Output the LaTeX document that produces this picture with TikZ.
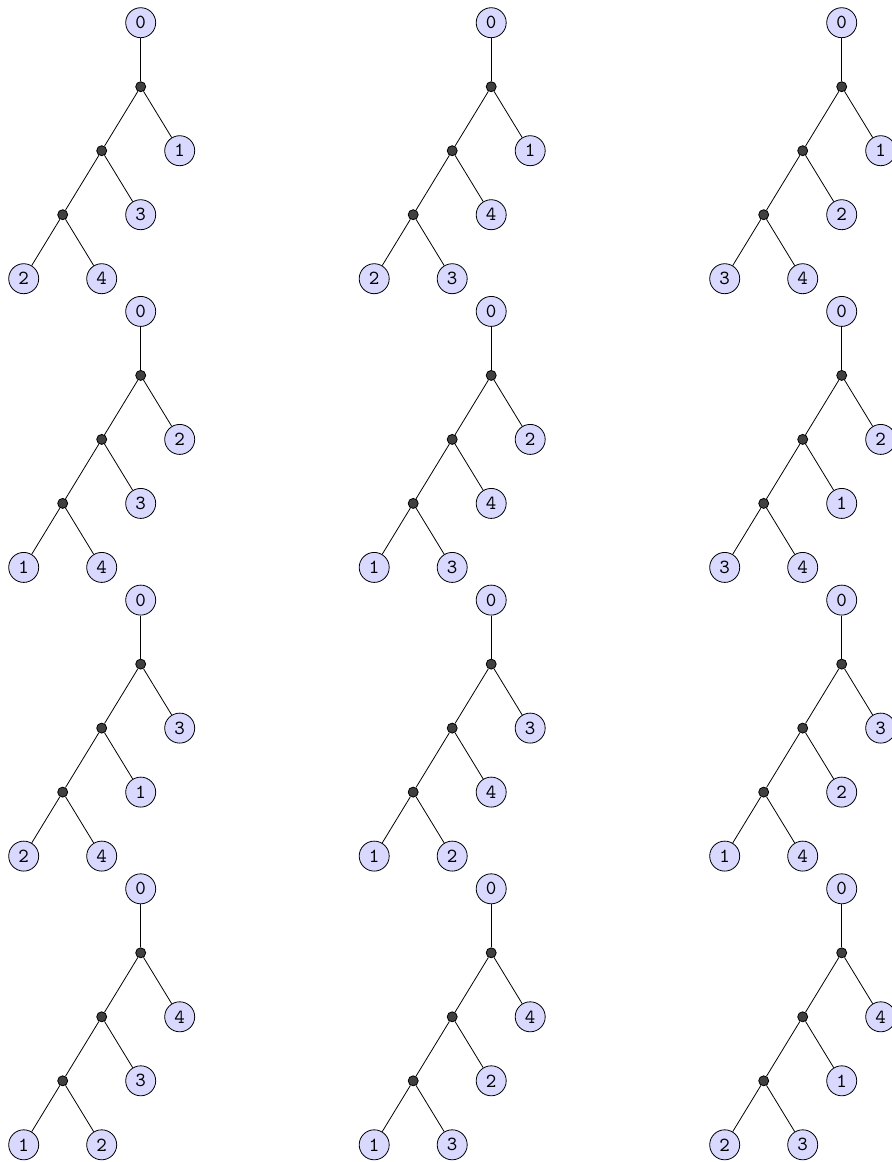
\documentclass[tikz,border=0pt]{standalone}
\begin{document}
\begin{tikzpicture}[x=0.5pt,y=-0.5pt,
  leaf/.style={circle,draw=black,fill=blue!15,minimum size=15pt,inner sep=0pt,font=\ttfamily},
  dot/.style={circle,draw=black,fill=black!75,minimum size=5pt,inner sep=0pt},
  edge/.style={draw=black}]
\useasboundingbox (0,0) rectangle (891,1162);
\newcommand\mytree[7]{%
  \node[leaf] (#1r) at (#2,#3) {0};
  \node[dot] (#1i1) at (#2,#3+64) {};
  \node[leaf] (#1a) at (#2+39,#3+128) {#4};
  \node[dot] (#1i2) at (#2-39,#3+128) {};
  \node[leaf] (#1b) at (#2,#3+192) {#5};
  \node[dot] (#1i3) at (#2-78,#3+192) {};
  \node[leaf] (#1c) at (#2-117,#3+256) {#6};
  \node[leaf] (#1d) at (#2-39,#3+256) {#7};
  \draw[edge] (#1r) -- (#1i1);
  \draw[edge] (#1i1) -- (#1a);
  \draw[edge] (#1i1) -- (#1i2);
  \draw[edge] (#1i2) -- (#1b);
  \draw[edge] (#1i2) -- (#1i3);
  \draw[edge] (#1i3) -- (#1c);
  \draw[edge] (#1i3) -- (#1d);
}
\mytree{aa}{140.7}{22.7}{1}{3}{2}{4}
\mytree{ab}{140.7}{311.4}{2}{3}{1}{4}
\mytree{ac}{140.7}{600.1}{3}{1}{2}{4}
\mytree{ad}{140.7}{888.8}{4}{3}{1}{2}
\mytree{ba}{491.2}{22.7}{1}{4}{2}{3}
\mytree{bb}{491.2}{311.4}{2}{4}{1}{3}
\mytree{bc}{491.2}{600.1}{3}{4}{1}{2}
\mytree{bd}{491.2}{888.8}{4}{2}{1}{3}
\mytree{ca}{841.7}{22.7}{1}{2}{3}{4}
\mytree{cb}{841.7}{311.4}{2}{1}{3}{4}
\mytree{cc}{841.7}{600.1}{3}{2}{1}{4}
\mytree{cd}{841.7}{888.8}{4}{1}{2}{3}
\end{tikzpicture}
\end{document}
